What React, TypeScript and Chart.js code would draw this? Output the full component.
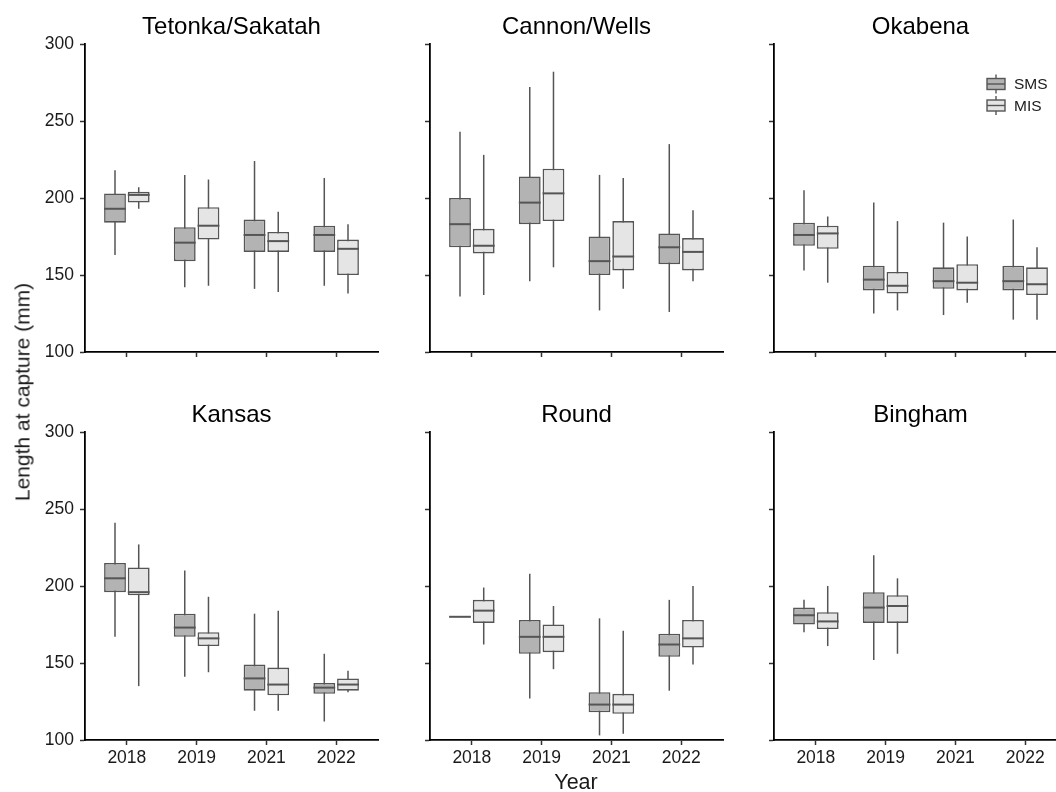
import React, { useEffect, useRef } from 'react';
import { Chart, registerables } from 'chart.js';

Chart.register(...registerables);

const FONT = '"Liberation Sans", Arial, Helvetica, sans-serif';
Chart.defaults.font.family = FONT;

const years = ['2018', '2019', '2021', '2022'];
const lakes = ['Tetonka/Sakatah', 'Cannon/Wells', 'Okabena', 'Kansas', 'Round', 'Bingham'];
const seriesNames = ['SMS', 'MIS'];
const yTicks = [100, 150, 200, 250, 300];

// each entry: [lower whisker, Q1, median, Q3, upper whisker] per year (null = no data)
const tetonkaSMS = [[163, 184, 193, 203, 218], [142, 159, 171, 181, 215], [141, 165, 176, 186, 224], [143, 165, 176, 182, 213]];
const tetonkaMIS = [[193, 197, 202, 204, 207], [143, 173, 182, 194, 212], [139, 165, 172, 178, 191], [138, 150, 167, 173, 183]];
const cannonSMS = [[136, 168, 183, 200, 243], [146, 183, 197, 214, 272], [127, 150, 159, 175, 215], [126, 157, 168, 177, 235]];
const cannonMIS = [[137, 164, 169, 180, 228], [155, 185, 203, 219, 282], [141, 153, 162, 185, 213], [146, 153, 165, 174, 192]];
const okabenaSMS = [[153, 169, 176, 184, 205], [125, 140, 147, 156, 197], [124, 141, 146, 155, 184], [121, 140, 146, 156, 186]];
const okabenaMIS = [[145, 167, 177, 182, 188], [127, 138, 143, 152, 185], [132, 140, 145, 157, 175], [121, 137, 144, 155, 168]];
const kansasSMS = [[167, 196, 205, 215, 241], [141, 167, 173, 182, 210], [119, 132, 140, 149, 182], [112, 130, 134, 137, 156]];
const kansasMIS = [[135, 194, 196, 212, 227], [144, 161, 166, 170, 193], [119, 129, 136, 147, 184], [131, 132, 136, 140, 145]];
const roundSMS = [[180, 180, 180, 180, 180], [127, 156, 167, 178, 208], [103, 118, 123, 131, 179], [132, 154, 162, 169, 191]];
const roundMIS = [[162, 176, 184, 191, 199], [146, 157, 167, 175, 187], [104, 117, 123, 130, 171], [149, 160, 166, 178, 200]];
const binghamSMS = [[170, 175, 181, 186, 191], [152, 176, 186, 196, 220], null, null];
const binghamMIS = [[161, 172, 177, 183, 200], [156, 176, 187, 194, 205], null, null];

const smsByLake = [tetonkaSMS, cannonSMS, okabenaSMS, kansasSMS, roundSMS, binghamSMS];
const misByLake = [tetonkaMIS, cannonMIS, okabenaMIS, kansasMIS, roundMIS, binghamMIS];

const FILL = ['#b3b3b3', '#e5e5e5'];
const EDGE = '#555555';
const TEXT = '#1a1a1a';

const COL_LEFT = [85, 430, 774];
const ROW_TOP = [44, 432];
const Y_AXIS_W = 60;
const TITLE_H = 44;
const PLOT_W = 293;
const PLOT_H = 308;
const X_AXIS_H = 40;
const PAD_R = 12;
const CANVAS_W = Y_AXIS_W + PLOT_W + PAD_R;
const CANVAS_H = TITLE_H + PLOT_H + X_AXIS_H;

function Panel({ idx }: { idx: number }) {
  const ref = useRef<HTMLCanvasElement | null>(null);
  const col = idx % 3;
  const row = Math.floor(idx / 3);
  const showY = col === 0;
  const showX = row === 1;
  const showLegend = idx === 2;

  useEffect(() => {
    const canvas = ref.current;
    if (!canvas) return;
    const stats = [smsByLake[idx], misByLake[idx]];

    const boxPlugin = {
      id: 'boxWhiskers',
      beforeDatasetsDraw(chart: any) {
        const { ctx } = chart;
        const ys = chart.scales.y;
        ctx.save();
        ctx.strokeStyle = EDGE;
        ctx.lineWidth = 1.5;
        chart.data.datasets.forEach((_: any, di: number) => {
          const meta = chart.getDatasetMeta(di);
          meta.data.forEach((el: any, i: number) => {
            const s = stats[di][i];
            if (!s) return;
            ctx.beginPath();
            ctx.moveTo(el.x, ys.getPixelForValue(s[0]));
            ctx.lineTo(el.x, ys.getPixelForValue(s[4]));
            ctx.stroke();
          });
        });
        ctx.restore();
      },
      afterDatasetsDraw(chart: any) {
        const { ctx } = chart;
        const ys = chart.scales.y;
        ctx.save();
        ctx.strokeStyle = EDGE;
        ctx.lineWidth = 2;
        chart.data.datasets.forEach((_: any, di: number) => {
          const meta = chart.getDatasetMeta(di);
          meta.data.forEach((el: any, i: number) => {
            const s = stats[di][i];
            if (!s) return;
            const y = ys.getPixelForValue(s[2]);
            ctx.beginPath();
            ctx.moveTo(el.x - el.width / 2, y);
            ctx.lineTo(el.x + el.width / 2, y);
            ctx.stroke();
          });
        });
        if (showLegend) {
          const ca = chart.chartArea;
          const kx = ca.left + 213;
          const kw = 18;
          seriesNames.forEach((name, s) => {
            const cy = ca.top + 40 + s * 21.5;
            ctx.strokeStyle = EDGE;
            ctx.lineWidth = 1.4;
            ctx.beginPath();
            ctx.moveTo(kx + kw / 2, cy - 9.5);
            ctx.lineTo(kx + kw / 2, cy + 9.5);
            ctx.stroke();
            ctx.fillStyle = FILL[s];
            ctx.fillRect(kx, cy - 5.5, kw, 11);
            ctx.strokeRect(kx, cy - 5.5, kw, 11);
            ctx.beginPath();
            ctx.moveTo(kx, cy);
            ctx.lineTo(kx + kw, cy);
            ctx.stroke();
            ctx.fillStyle = TEXT;
            ctx.font = `15.5px ${FONT}`;
            ctx.textBaseline = 'middle';
            ctx.textAlign = 'left';
            ctx.fillText(name, kx + kw + 9, cy + 1);
          });
        }
        ctx.restore();
      },
    };

    const chart = new Chart(canvas, {
      type: 'bar',
      data: {
        datasets: [0, 1].map((s) => ({
          label: seriesNames[s],
          data: stats[s].map((b: number[] | null, i: number) => ({ x: i, y: b ? [b[1], b[3]] : null })),
          backgroundColor: FILL[s],
          borderColor: EDGE,
          borderWidth: 1.6,
          borderSkipped: false,
          categoryPercentage: 0.68,
          barPercentage: 0.92,
        })),
      } as any,
      options: {
        responsive: false,
        animation: false,
        devicePixelRatio: 1,
        layout: { padding: { left: 0, right: PAD_R, top: 0, bottom: 0 } },
        plugins: {
          legend: { display: false },
          tooltip: { enabled: false },
          title: {
            display: true,
            fullSize: false,
            text: lakes[idx],
            color: '#000',
            font: { size: 24, weight: 'normal', family: FONT, lineHeight: 1.2 },
            padding: { top: 13, bottom: 2.2 },
          },
        },
        scales: {
          x: {
            type: 'linear',
            min: -0.6,
            max: 3.6,
            offset: false,
            afterBuildTicks: (scale: any) => {
              scale.ticks = years.map((_, i) => ({ value: i }));
            },
            afterFit: (scale: any) => {
              scale.height = X_AXIS_H;
            },
            ticks: {
              display: showX,
              autoSkip: false,
              maxRotation: 0,
              padding: 3,
              color: TEXT,
              font: { size: 17.5, family: FONT },
              callback: (v: any) => years[Number(v)] ?? '',
            },
            grid: {
              display: true,
              drawOnChartArea: false,
              drawTicks: true,
              tickLength: 5,
              tickColor: '#333',
              tickWidth: 1.5,
              offset: false,
            },
            border: { display: true, color: '#000', width: 1.8 },
          },
          y: {
            type: 'linear',
            min: 100,
            max: 300,
            afterBuildTicks: (scale: any) => {
              scale.ticks = yTicks.map((v) => ({ value: v }));
            },
            afterFit: (scale: any) => {
              scale.width = Y_AXIS_W;
            },
            ticks: {
              display: showY,
              padding: 6,
              color: TEXT,
              font: { size: 17.5, family: FONT },
            },
            grid: {
              display: true,
              drawOnChartArea: false,
              drawTicks: true,
              tickLength: 5,
              tickColor: '#333',
              tickWidth: 1.5,
            },
            border: { display: true, color: '#000', width: 1.8 },
          },
        },
      } as any,
      plugins: [boxPlugin],
    });
    return () => chart.destroy();
  }, [idx]);

  const left = COL_LEFT[col] - Y_AXIS_W;
  const top = ROW_TOP[row] - TITLE_H;
  return (
    <canvas
      ref={ref}
      width={CANVAS_W}
      height={CANVAS_H}
      style={{ position: 'absolute', left, top, width: CANVAS_W, height: CANVAS_H }}
    />
  );
}

export default function App() {
  return (
    <div
      style={{
        position: 'fixed',
        left: 0,
        top: 0,
        width: 1056,
        height: 792,
        overflow: 'hidden',
        background: '#fff',
        fontFamily: FONT,
        color: TEXT,
      }}
    >
      {lakes.map((_, i) => (
        <Panel key={i} idx={i} />
      ))}
      <div
        style={{
          position: 'absolute',
          left: 22,
          top: 392,
          transform: 'translate(-50%, -50%) rotate(-90deg)',
          whiteSpace: 'nowrap',
          fontSize: 21,
          lineHeight: 1,
        }}
      >
        Length at capture (mm)
      </div>
      <div
        style={{
          position: 'absolute',
          left: 576,
          top: 783,
          transform: 'translate(-50%, -50%)',
          whiteSpace: 'nowrap',
          fontSize: 21.5,
          lineHeight: 1,
        }}
      >
        Year
      </div>
    </div>
  );
}
